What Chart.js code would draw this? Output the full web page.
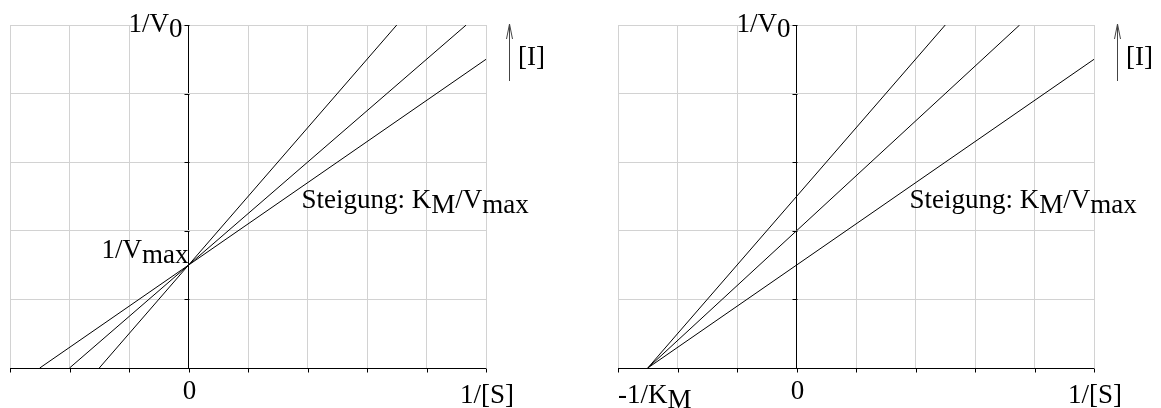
<!DOCTYPE html>
<html>
<head>
<meta charset="utf-8">
<script src="https://cdn.jsdelivr.net/npm/chart.js@4/dist/chart.umd.min.js"></script>
<style>
    html, body { margin: 0; padding: 0; background: #fff; }
    #wrap { position: relative; width: 1161px; height: 408px; overflow: hidden; }
    canvas { position: absolute; top: 0; }
</style>
</head>
<body>
<div id="wrap">
    <canvas id="chart-left" width="553" height="408" style="left:0"></canvas>
    <canvas id="chart-right" width="553" height="408" style="left:608px"></canvas>
</div>
<script>
// ---- data (grid units) ----
const xTicks = [-3, -2, -1, 0, 1, 2, 3, 4, 5];
const yTicks = [0, 1, 2, 3, 4, 5];

// competitive: common y-intercept 1/Vmax, x-intercepts move right with [I]
const compStartX = [-1.5, -2, -2.5];
const compStartY = [0, 0, 0];
const compEndX = [3.5, 4.667, 5];
const compEndY = [5, 5, 4.5];

// non-competitive: common x-intercept -1/KM
const nonStartX = [-2.5, -2.5, -2.5];
const nonStartY = [0, 0, 0];
const nonEndX = [2.5, 3.75, 5];
const nonEndY = [5, 5, 4.5];

const FONT = '27px "Liberation Serif", "Times New Roman", serif';
const GRID = '#d2d2d2';

function lineSets(sx, sy, ex, ey) {
    return sx.map((_, i) => ({
        data: [{ x: sx[i], y: sy[i] }, { x: ex[i], y: ey[i] }],
        showLine: true, borderColor: '#000', borderWidth: 1,
        pointRadius: 0, pointHoverRadius: 0, fill: false
    }));
}

// text with subscripts, parts = [[text, isSub], ...]
function drawParts(ctx, parts, x, y, align) {
    ctx.font = FONT;
    ctx.textBaseline = 'alphabetic';
    ctx.textAlign = 'left';
    const total = parts.reduce((s, p) => s + ctx.measureText(p[0]).width, 0);
    let cx = align === 'right' ? x - total : align === 'center' ? x - total / 2 : x;
    parts.forEach(p => {
        ctx.fillText(p[0], cx, p[1] ? y + 5 : y);
        cx += ctx.measureText(p[0]).width;
    });
}

function decorPlugin(showKm) {
    return {
        id: 'decor',
        afterDraw(chart) {
            const ctx = chart.ctx;
            const xs = chart.scales.x, ys = chart.scales.y;
            const a = chart.chartArea;
            const x0 = Math.round(xs.getPixelForValue(0)) + 0.5;
            const yb = Math.round(ys.getPixelForValue(0)) + 0.5;
            ctx.save();
            ctx.strokeStyle = '#000';
            ctx.lineWidth = 1;
            ctx.beginPath();
            // x axis ticks
            xTicks.forEach(v => {
                const px = Math.round(xs.getPixelForValue(v)) + 0.5;
                ctx.moveTo(px, yb); ctx.lineTo(px, yb + 4);
            });
            // y axis ticks
            yTicks.forEach(v => {
                if (v === 0) return;
                const py = Math.round(ys.getPixelForValue(v)) + 0.5;
                ctx.moveTo(x0 - 5, py); ctx.lineTo(x0, py);
            });
            ctx.stroke();

            // arrow for [I]
            const ax = Math.round(a.right + 23) + 0.5;
            ctx.strokeStyle = '#444';
            ctx.beginPath();
            ctx.moveTo(ax, a.top + 56); ctx.lineTo(ax, a.top - 1);
            ctx.moveTo(ax - 3, a.top + 14); ctx.lineTo(ax, a.top - 1); ctx.lineTo(ax + 3, a.top + 14);
            ctx.stroke();

            ctx.fillStyle = '#000';
            drawParts(ctx, [['[I]', false]], a.right + 32, a.top + 40, 'left');
            drawParts(ctx, [['1/V', false], ['0', true]], x0 - 7, a.top + 7, 'right');
            if (!showKm) {
                drawParts(ctx, [['1/V', false], ['max', true]], x0 - 1, ys.getPixelForValue(1.5) - 7, 'right');
            }
            drawParts(ctx, [['Steigung: K', false], ['M', true], ['/V', false], ['max', true]], x0 + 112, a.top + 183, 'left');
            drawParts(ctx, [['0', false]], x0, yb + 30, 'center');
            drawParts(ctx, [['1/[S]', false]], a.right - 26, yb + 34, 'left');
            if (showKm) {
                drawParts(ctx, [['-1/K', false], ['M', true]], a.left, yb + 34, 'left');
            }
            ctx.restore();
        }
    };
}

function makeChart(id, datasets, showKm) {
    const gridColor = c => (c.tick && c.tick.value === 0) ? '#000' : GRID;
    return new Chart(document.getElementById(id).getContext('2d'), {
        type: 'scatter',
        data: { datasets },
        options: {
            responsive: false, animation: false,
            layout: { padding: { left: 10, right: 67, top: 25, bottom: 40 } },
            plugins: { legend: { display: false }, tooltip: { enabled: false } },
            scales: {
                x: { type: 'linear', min: -3, max: 5,
                    ticks: { display: false, stepSize: 1 },
                    grid: { color: gridColor, drawTicks: false, lineWidth: 1 },
                    border: { display: false } },
                y: { type: 'linear', min: 0, max: 5,
                    ticks: { display: false, stepSize: 1 },
                    grid: { color: gridColor, drawTicks: false, lineWidth: 1 },
                    border: { display: false } }
            }
        },
        plugins: [decorPlugin(showKm)]
    });
}

makeChart('chart-left', lineSets(compStartX, compStartY, compEndX, compEndY), false);
makeChart('chart-right', lineSets(nonStartX, nonStartY, nonEndX, nonEndY), true);
</script>
</body>
</html>
